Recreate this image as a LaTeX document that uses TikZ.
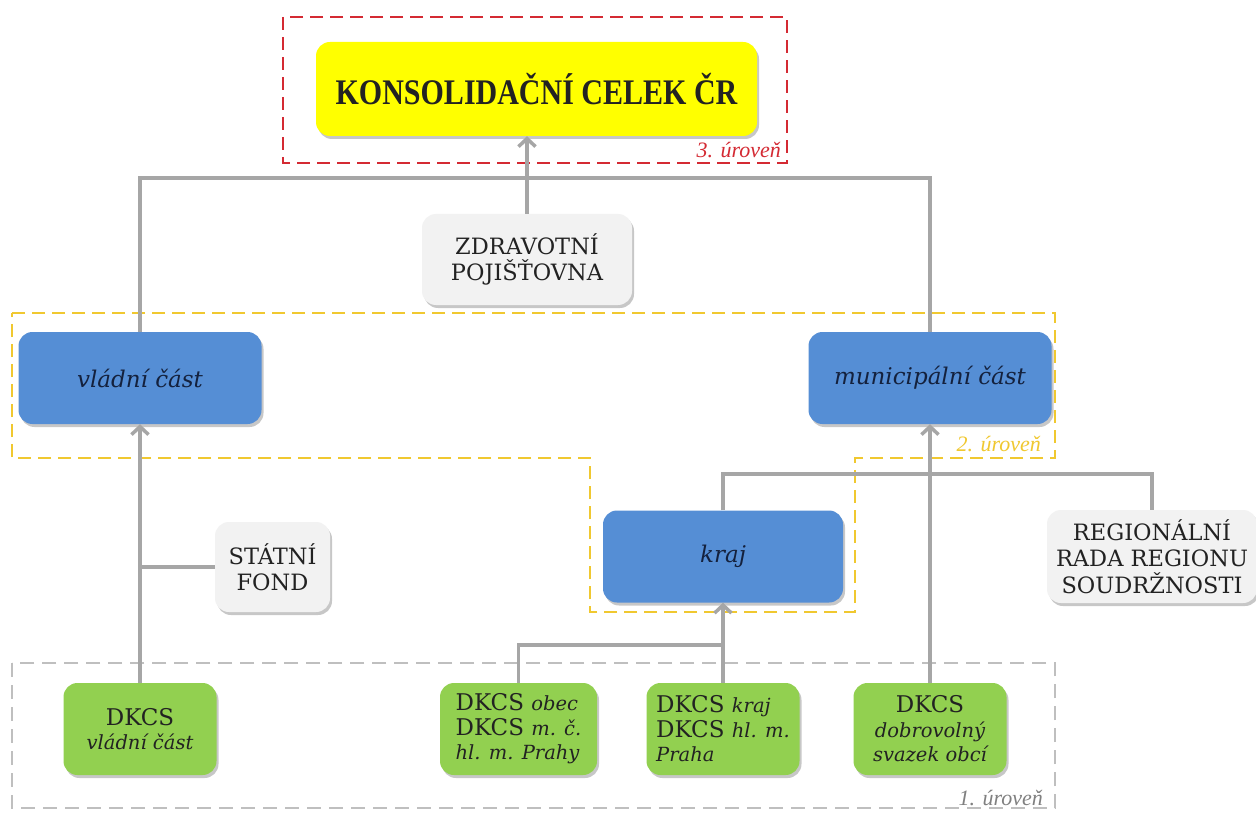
\documentclass[tikz,border=0pt]{standalone}
\usepackage{fontspec}
\setmainfont{DejaVu Serif}
\newfontfamily\titlefont{Liberation Serif}
\newfontfamily\lblfont{Liberation Serif}
\usetikzlibrary{arrows.meta,shadows}
\definecolor{cyel}{HTML}{FFFF00}
\definecolor{cblue}{HTML}{558ED5}
\definecolor{cgreen}{HTML}{92D050}
\definecolor{cgrey}{HTML}{F2F2F2}
\definecolor{cconn}{HTML}{A6A6A6}
\definecolor{cred}{HTML}{D42A33}
\definecolor{cgold}{HTML}{F0C830}
\definecolor{cdash}{HTML}{BFBFBF}
\definecolor{cnavy}{HTML}{14213D}
\definecolor{ctext}{HTML}{222222}
\tikzset{
  basebox/.style={rounded corners=14pt, inner sep=0pt, text=ctext,
    drop shadow={shadow xshift=2pt, shadow yshift=-3pt, opacity=0.22, fill=black}},
  yellowbox/.style={basebox, fill=cyel, minimum width=441pt, minimum height=94pt},
  bluebox/.style={basebox, fill=cblue, text=cnavy, minimum width=243pt, minimum height=92pt,
    font=\fontsize{23}{27}\selectfont\itshape},
  greybox/.style={basebox, fill=cgrey, align=center, font=\fontsize{22.5}{26.5}\selectfont},
  greenbox/.style={basebox, fill=cgreen, minimum width=153pt, minimum height=92pt,
    font=\fontsize{23}{24.5}\selectfont},
  conn/.style={draw=cconn, line width=3.5pt},
  arr/.style={conn, -{Straight Barb[length=8pt, width=17pt]}},
  lvlframe/.style={line width=2.5pt, dash pattern=on 13pt off 7pt},
  lvllabel/.style={font=\lblfont\itshape\fontsize{22}{24}\selectfont, anchor=base east, inner sep=0pt}
}
\newcommand{\sm}[1]{{\itshape\fontsize{19.5}{24.5}\selectfont #1}}
\begin{document}
\begin{tikzpicture}[x=1pt, y=-1pt]
\useasboundingbox (0,0) rectangle (1256,813);
\fill[white] (0,0) rectangle (1256,813);
% level frames
\draw[lvlframe, draw=cred] (283,17) rectangle (787,163);
\draw[lvlframe, draw=cgold] (12,313) -- (1055,313) -- (1055,458) -- (855,458) -- (855,612) -- (590,612) -- (590,458) -- (12,458) -- cycle;
\draw[line width=1.5pt, draw=cdash, dash pattern=on 14pt off 8pt] (12,663) rectangle (1055,808);
\node[lvllabel, text=cred] (l3) at (781,158) {3. úroveň};
\node[lvllabel, text=cgold] (l2) at (1041,451) {2. úroveň};
\node[lvllabel, text=gray] (l1) at (1043,805) {1. úroveň};
% nodes
\node[yellowbox] (konsol) at (536.5,89) {\titlefont\bfseries\fontsize{30}{34}\selectfont\scalebox{1}[1.2]{KONSOLIDAČNÍ CELEK ČR}};
\node[greybox, minimum width=210pt, minimum height=91pt] (zdrav) at (527,259.5) {ZDRAVOTNÍ\\POJIŠŤOVNA};
\node[bluebox] (vladni) at (140,378) {vládní část};
\node[bluebox] (munic) at (930,378) {municipální část};
\node[greybox, minimum width=115pt, minimum height=90pt] (statni) at (272.5,567) {STÁTNÍ\\FOND};
\node[bluebox, minimum width=240pt] (kraj) at (723,556.5) {kraj};
\node[greybox, minimum width=210pt, minimum height=93pt] (region) at (1152,556.5) {REGIONÁLNÍ\\RADA REGIONU\\SOUDRŽNOSTI};
\node[greenbox, align=center] (d1) at (140,729) {DKCS\\\sm{vládní část}};
\node[greenbox, align=left, minimum width=157pt] (d2) at (518.5,729) {DKCS \sm{obec}\\DKCS \sm{m. č.}\\\sm{hl. m. Prahy}};
\node[greenbox, align=left] (d3) at (723,729) {DKCS \sm{kraj}\\DKCS \sm{hl. m.}\\\sm{Praha}};
\node[greenbox, align=center] (d4) at (930,729) {DKCS\\\sm{dobrovolný}\\\sm{svazek obcí}};
% connectors
\coordinate (top) at (527,178);
\coordinate (rj) at (723,474);
\coordinate (kj) at (723,645);
\draw[conn] (vladni.north) |- (top) -| (munic.north);
\draw[arr] (zdrav.north) -- (zdrav.north |- konsol.south);
\draw[arr] (d1.north) -- (vladni.south);
\draw[conn] (statni.west) -- (statni.west -| d1.north);
\draw[conn] (kraj.north) |- (rj) -| (region.north);
\draw[conn] (d2.north) |- (kj);
\draw[arr] (d3.north) -- (kraj.south);
\draw[arr] (d4.north) -- (munic.south);
\end{tikzpicture}
\end{document}
